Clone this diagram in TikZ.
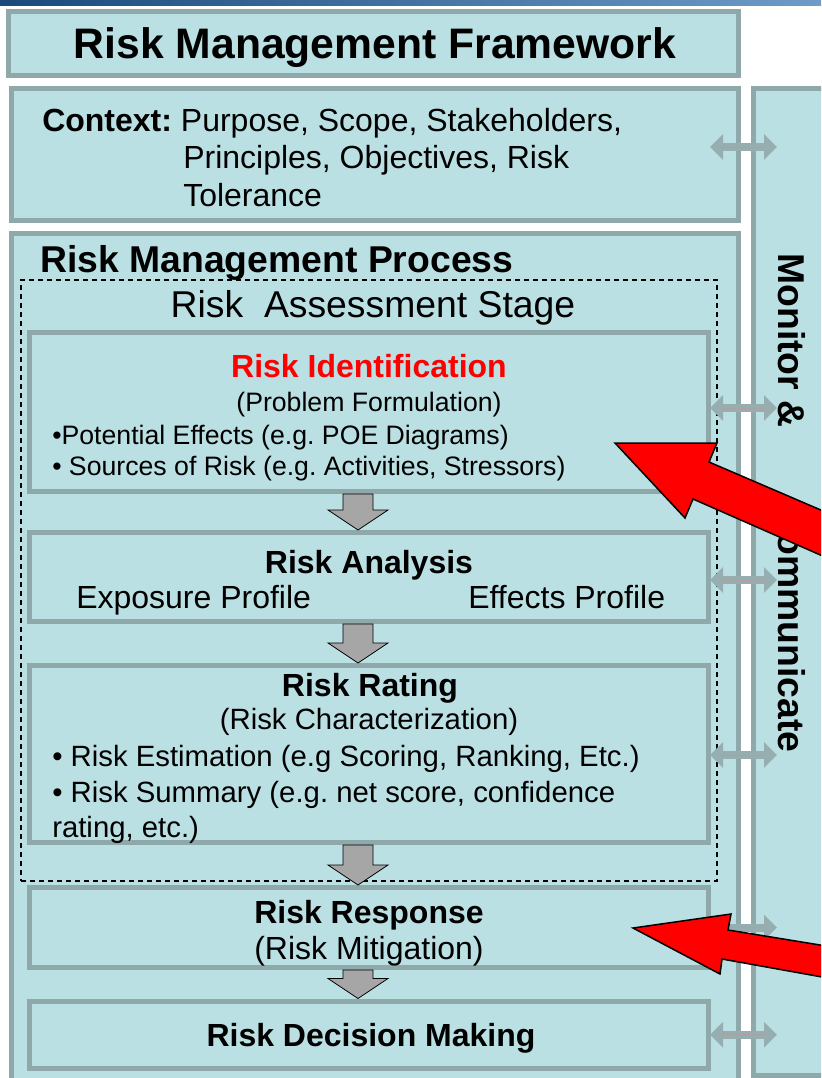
\documentclass[tikz,border=0pt]{standalone}
\usepackage{fontspec}
\setmainfont{Liberation Sans}
\usetikzlibrary{calc,arrows.meta}
\frenchspacing

\newdimen\pxu \pxu=0.75pt
\definecolor{panel}{RGB}{187,224,227}
\definecolor{frame}{RGB}{143,168,170}
\definecolor{linkgray}{RGB}{150,174,175}
\definecolor{linkcore}{RGB}{172,160,160}
\definecolor{blockgray}{RGB}{166,166,166}
\definecolor{bannerdark}{RGB}{26,74,124}
\definecolor{bannermid}{RGB}{70,120,170}
\definecolor{bannerlight}{RGB}{110,155,200}

\tikzset{
  panelbox/.style={draw=frame, fill=panel, line width=5\pxu, inner sep=0pt},
  stagebox/.style={draw=black, line width=1.5\pxu, dash pattern=on 5\pxu off 4\pxu, inner sep=0pt},
  blockarrow/.style={fill=blockgray, draw=black, line width=0.8\pxu, line join=miter},
  link/.style={draw=linkgray, line width=8\pxu,
    {Triangle[length=9.75pt,width=18.75pt]}-{Triangle[length=9.75pt,width=18.75pt]}},
  callout/.style={fill=red, draw=black, line width=1.5\pxu, line join=miter},
  txt/.style={inner sep=0pt, anchor=base},
  lefttxt/.style={inner sep=0pt, anchor=base west},
}

\begin{document}
\begin{tikzpicture}[x=0.75pt, y=-0.75pt]
    \useasboundingbox (0,0) rectangle (821,1078);
    \clip (0,0) rectangle (821,1078);

    % banner strip
    \shade[left color=bannerdark, middle color=bannermid, right color=bannerlight] (0,0) rectangle (821,5);

    % outer frames
    \node[panelbox, minimum width=730\pxu, minimum height=64\pxu] (frametitle) at (373,43) {};
    \node[panelbox, minimum width=727\pxu, minimum height=132\pxu] (context) at (374.5,154) {};
    \node[panelbox, minimum width=727\pxu, minimum height=867\pxu] (process) at (374.5,666.5) {};
    \node[panelbox, minimum width=87\pxu, minimum height=987\pxu] (monitor) at (796.5,581.5) {};

    % assessment stage
    \node[stagebox, minimum width=696\pxu, minimum height=601\pxu] (stage) at (369,580.5) {};

    % process steps
    \node[panelbox, minimum width=679\pxu, minimum height=159\pxu] (ident) at (369,412) {};
    \node[panelbox, minimum width=679\pxu, minimum height=89\pxu] (analysis) at (369,577) {};
    \node[panelbox, minimum width=679\pxu, minimum height=177\pxu] (rating) at (369,754) {};
    \node[panelbox, minimum width=679\pxu, minimum height=80\pxu] (response) at (369,927.5) {};
    \node[panelbox, minimum width=679\pxu, minimum height=67.5\pxu] (decision) at (369,1034.75) {};

    % headings
    \node[txt, font=\fontsize{32}{38}\selectfont\bfseries] (titletext) at (375,58) {Risk Management Framework};
    \node[lefttxt, font=\fontsize{24}{29}\selectfont] (ctxa) at (42,131) {\textbf{Context:} Purpose, Scope, Stakeholders,};
    \node[lefttxt, font=\fontsize{24}{29}\selectfont] (ctxb) at (183,168) {Principles, Objectives, Risk};
    \node[lefttxt, font=\fontsize{24}{29}\selectfont] (ctxc) at (183,206) {Tolerance};
    \node[lefttxt, font=\fontsize{28}{34}\selectfont\bfseries] (proctext) at (40,272) {Risk Management Process};
    \node[txt, font=\fontsize{28}{34}\selectfont] (stagetext) at (373,317) {Risk\ \ Assessment Stage};

    % risk identification
    \node[txt, text=red, font=\fontsize{24}{29}\selectfont\bfseries] (identhead) at (369,377) {Risk Identification};
    \node[txt, font=\fontsize{20}{24}\selectfont] (identsub) at (369,411) {(Problem Formulation)};
    \node[lefttxt, font=\fontsize{20}{24}\selectfont] (identa) at (52,444) {•Potential Effects (e.g. POE Diagrams)};
    \node[lefttxt, font=\fontsize{20}{24}\selectfont] (identb) at (52,475) {• Sources of Risk (e.g. Activities, Stressors)};

    % risk analysis
    \node[txt, font=\fontsize{24}{29}\selectfont\bfseries] (analysishead) at (369,573) {Risk Analysis};
    \node[lefttxt, font=\fontsize{24}{29}\selectfont] (exposure) at (76,608) {Exposure Profile};
    \node[lefttxt, font=\fontsize{24}{29}\selectfont] (effects) at (468,608) {Effects Profile};

    % risk rating
    \node[txt, font=\fontsize{24}{29}\selectfont\bfseries] (ratinghead) at (370,696) {Risk Rating};
    \node[txt, font=\fontsize{22}{27}\selectfont] (ratingsub) at (369,729) {(Risk Characterization)};
    \node[lefttxt, font=\fontsize{22}{27}\selectfont] (ratinga) at (52,766) {• Risk Estimation (e.g Scoring, Ranking, Etc.)};
    \node[lefttxt, font=\fontsize{22}{27}\selectfont] (ratingb) at (52,802) {• Risk Summary (e.g. net score, confidence};
    \node[lefttxt, font=\fontsize{22}{27}\selectfont] (ratingc) at (52,837) {rating, etc.)};

    % response and decision
    \node[txt, font=\fontsize{24}{29}\selectfont\bfseries] (responsehead) at (369,923) {Risk Response};
    \node[txt, font=\fontsize{24}{29}\selectfont] (responsesub) at (369,959) {(Risk Mitigation)};
    \node[txt, font=\fontsize{24}{29}\selectfont\bfseries] (decisionhead) at (371,1046) {Risk Decision Making};

    % flow between steps
    \coordinate (flow) at (358,0);
    \foreach \a/\b in {ident/analysis, analysis/rating, rating/response, response/decision}
        \draw[blockarrow] ($(flow |- \a.south)+(-15,0)$) -- ($(flow |- \b.north)+(-15,-20)$)
            -- ($(flow |- \b.north)+(-30,-20)$) -- (flow |- \b.north)
            -- ($(flow |- \b.north)+(30,-20)$) -- ($(flow |- \b.north)+(15,-20)$)
            -- ($(flow |- \a.south)+(15,0)$) -- cycle;

    % links to monitoring
    \coordinate (linkL) at (710,0);
    \coordinate (linkR) at (777,0);
    \foreach \b/\dy in {context/-7, ident/-4, analysis/3, rating/1, response/0, decision/0} {
        \draw[link] ($(linkL |- \b.center)+(0,\dy)$) -- ($(linkR |- \b.center)+(0,\dy)$);
        \draw[draw=linkcore, line width=0.75pt] ($(linkL |- \b.center)+(12,\dy)$) -- ($(linkR |- \b.center)+(-12,\dy)$);
    }

    \node[txt, rotate=-90, font=\fontsize{28}{34}\selectfont\bfseries] (monitortext) at (778,503)
        {Monitor \&\hspace{2.1em}Communicate};

    % pointers
    \draw[callout] (615,443) -- (717,443) -- (709,462) -- (900,544) -- (900,590)
        -- (693,499) -- (685,518) -- cycle;
    \draw[callout] (633,928) -- (731,914) -- (728,930) -- (900,958) -- (900,991)
        -- (722,959) -- (720,974) -- cycle;
\end{tikzpicture}
\end{document}
